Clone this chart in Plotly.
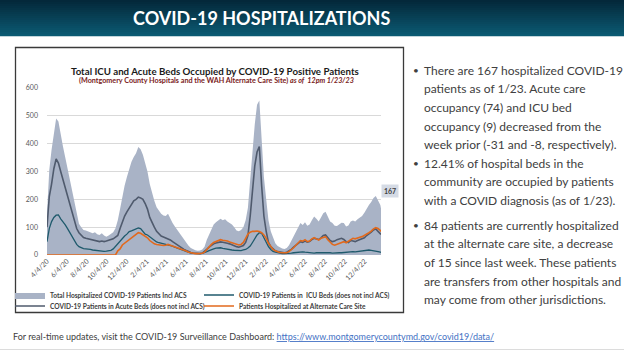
import plotly.graph_objects as go
import pandas as pd

# ---------------- data (weekly readings from the picture, last point = 1/23/23) -------------
first_week = "2020-04-04"
last_day = "2023-01-23"

total_hosp = [150, 305, 378, 445, 490, 480, 430, 390, 350, 310, 265, 222, 180, 140, 112, 100, 90, 88,
              85, 80, 78, 82, 75, 72, 78, 70, 66, 70, 75, 82, 96,
              125, 165, 216, 250, 280, 308, 335, 352, 366, 388, 380, 360, 328,
              300, 255, 220, 195, 172, 158, 148, 142, 140, 148, 128, 115, 102,
              90, 78, 66, 55, 43, 33, 25, 20, 17, 15, 16, 20, 30,
              55, 75, 95, 110, 118, 125, 130, 125, 128, 120, 115, 110, 100, 88, 85, 90, 100,
              125, 170, 260, 370, 470, 540, 555, 410, 280, 200, 125, 85, 60, 42, 32, 26, 23,
              22, 25, 35, 50, 65, 85, 100, 115, 108, 118, 105, 110, 125, 138, 130, 120, 135,
              150, 155, 135, 120, 115, 105, 104, 110, 116, 115, 102, 106, 120, 124, 120, 128, 134,
              140, 152, 168, 180, 190, 205, 212, 195, 180,
              167]
acute_beds = [100, 210, 255, 310, 345, 330, 300, 270, 240, 215, 185, 156, 125, 95, 80, 70, 63, 60,
              58, 55, 54, 52, 50, 48, 50, 48, 50, 52, 55, 58, 64,
              70, 95, 120, 140, 155, 168, 185, 195, 200, 208, 205, 200, 185,
              165, 135, 115, 100, 85, 75, 68, 65, 62, 58, 54, 48, 42,
              36, 30, 25, 20, 16, 12, 9, 7, 6, 5, 5, 7, 12,
              20, 28, 35, 40, 43, 45, 47, 46, 45, 42, 40, 36, 33, 30, 28, 30, 34,
              45, 70, 140, 240, 320, 370, 390, 250, 140, 85, 45, 30, 22, 15, 12, 10, 9,
              8, 10, 14, 20, 28, 35, 42, 48, 45, 50, 46, 48, 55, 60, 58, 55, 62,
              70, 72, 62, 52, 48, 50, 55, 58, 60, 56, 48, 45, 52, 50, 48, 52, 55,
              58, 62, 70, 75, 82, 90, 94, 85, 78,
              74]
icu_beds = [48, 95, 120, 135, 143, 144, 130, 120, 108, 95, 80, 66, 52, 38, 30, 26, 23, 22,
            22, 20, 18, 17, 15, 13, 14, 13, 14, 15, 17, 22, 32,
            40, 48, 60, 68, 75, 84, 87, 90, 92, 97, 95, 85, 75,
            72, 65, 58, 52, 47, 44, 42, 40, 38, 38, 36, 32, 28,
            25, 22, 18, 15, 12, 10, 7, 6, 5, 4, 5, 6, 8,
            12, 16, 20, 22, 25, 26, 26, 24, 22, 20, 19, 18, 17, 16, 15, 16, 18,
            20, 25, 32, 45, 60, 72, 80, 78, 62, 46, 30, 20, 13, 10, 8, 6, 5,
            5, 5, 6, 7, 8, 9, 10, 12, 11, 10, 9, 9, 8, 7, 8, 8, 9,
            10, 9, 8, 8, 7, 8, 9, 8, 8, 9, 8, 9, 10, 12, 11, 12, 13,
            14, 16, 18, 18, 17, 16, 14, 12, 10,
            9]
alt_care = [0, 0, 0, 0, 0, 0, 0, 0, 0, 0, 0, 0, 0, 0, 0, 0, 0, 0,
            0, 0, 0, 0, 0, 0, 0, 0, 0, 0, 0, 0, 0,
            15, 22, 36, 42, 48, 54, 60, 65, 72, 80, 78, 72, 65,
            62, 52, 45, 40, 38, 36, 35, 34, 35, 38, 35, 32, 30,
            28, 25, 22, 18, 14, 10, 8, 6, 5, 5, 5, 6, 10,
            20, 28, 38, 45, 48, 52, 55, 53, 52, 50, 47, 44, 40, 37, 36, 38, 45,
            60, 75, 82, 85, 85, 86, 84, 80, 72, 60, 42, 30, 20, 15, 11, 9, 8,
            7, 8, 12, 18, 26, 35, 45, 52, 50, 55, 48, 50, 58, 62, 58, 54, 60,
            64, 66, 55, 45, 38, 35, 38, 42, 46, 48, 44, 50, 56, 60, 58, 62, 64,
            66, 70, 74, 80, 86, 94, 98, 95, 88,
            84]

tick_labels = ["4/4/20", "6/4/20", "8/4/20", "10/4/20", "12/4/20", "2/4/21", "4/4/21", "6/4/21",
               "8/4/21", "10/4/21", "12/4/21", "2/4/22", "4/4/22", "6/4/22", "8/4/22", "10/4/22",
               "12/4/22"]
y_ticks = [0, 100, 200, 300, 400, 500, 600]

names = ["Total Hospitalized COVID-19 Patients Incl ACS",
         "COVID-19 Patients in  ICU Beds (does not incl ACS)",
         "COVID-19 Patients in Acute Beds (does not incl ACS)",
         "Patients Hospitalized at Alternate Care Site"]

bullets = [
    ["There are 167 hospitalized COVID-19", "patients as of 1/23. Acute care",
     "occupancy (74) and ICU bed", "occupancy (9) decreased from the",
     "week prior (-31 and -8, respectively)."],
    ["12.41% of hospital beds in the", "community are occupied by patients",
     "with a COVID diagnosis (as of 1/23)."],
    ["84 patients are currently hospitalized", "at the alternate care site, a decrease",
     "of 15 since last week. These patients", "are transfers from other hospitals and",
     "may come from other jurisdictions."],
]

# ---------------- layout helpers ----------------
W, H = 624, 351
ML, MR, MT, MB = 47, 243, 88, 96
PW, PH = W - ML - MR, H - MT - MB


def px(x):
    return (x - ML) / PW


def py(y):
    return (H - MB - y) / PH


dates = list(pd.date_range(first_week, periods=len(total_hosp) - 1, freq="7D")) + [pd.Timestamp(last_day)]
tick_vals = [pd.to_datetime(t, format="%m/%d/%y") for t in tick_labels]

FONT = "Lato"
TXT = "#404040"

fig = go.Figure()
fig.add_trace(go.Scatter(x=dates, y=total_hosp, name=names[0], mode="lines", fill="tozeroy",
                         line=dict(width=0, color="#a9b3c6"), fillcolor="#a9b3c6", legend="legend"))
fig.add_trace(go.Scatter(x=dates, y=icu_beds, name=names[1], mode="lines",
                         line=dict(width=1.3, color="#1f5a6c"), legend="legend2"))
fig.add_trace(go.Scatter(x=dates, y=acute_beds, name=names[2], mode="lines",
                         line=dict(width=1.6, color="#4f5a6d"), legend="legend3"))
fig.add_trace(go.Scatter(x=dates, y=alt_care, name=names[3], mode="lines",
                         line=dict(width=1.6, color="#e2691c"), legend="legend4"))

shapes = []
# header band (vertical gradient made of thin strips)
top_c, bot_c = (4, 40, 58), (11, 90, 114)
n = 18
for i in range(n):
    f = i / (n - 1)
    c = tuple(round(top_c[k] + (bot_c[k] - top_c[k]) * f) for k in range(3))
    shapes.append(dict(type="rect", xref="paper", yref="paper", x0=px(0), x1=px(W),
                       y0=py(i * 2), y1=py(i * 2 + 2.2), line=dict(width=0),
                       fillcolor="rgb(%d,%d,%d)" % c, layer="below"))
# chart box
shapes.append(dict(type="rect", xref="paper", yref="paper", x0=px(15.5), x1=px(403.5),
                   y0=py(47.5), y1=py(312.5), line=dict(color="#3a3a3a", width=1.3), layer="below"))
# faint slide bottom line
shapes.append(dict(type="line", xref="paper", yref="paper", x0=px(0), x1=px(W),
                   y0=py(349.5), y1=py(349.5), line=dict(color="#dcdcdc", width=1)))

ann = []
ann.append(dict(xref="paper", yref="paper", x=px(261), y=py(18), text="<b>COVID-19 HOSPITALIZATIONS</b>",
                showarrow=False, font=dict(family=FONT, size=18, color="white"),
                xanchor="center", yanchor="middle"))
ann.append(dict(xref="paper", yref="paper", x=px(215), y=py(70.5),
                text="<b>Total ICU and Acute Beds Occupied by COVID-19 Positive Patients</b>",
                showarrow=False, font=dict(family=FONT, size=9.7, color="#1a1a1a"),
                xanchor="center", yanchor="middle"))
ann.append(dict(xref="paper", yref="paper", x=px(216), y=py(80),
                text="<b>(Montgomery County Hospitals and the WAH Alternate Care Site) <i>as of  12pm 1/23/23</i></b>",
                showarrow=False, font=dict(family=FONT, size=7.2, color="#7a2222"),
                xanchor="center", yanchor="middle"))
# data label of the last total value
ann.append(dict(xref="x", yref="y", x=dates[-1], y=total_hosp[-1], text="<b>%d</b>" % total_hosp[-1],
                showarrow=False, font=dict(family=FONT, size=7, color="#404040"),
                bgcolor="#d5dbe5", borderpad=2, xanchor="center", yanchor="middle",
                xshift=9, yshift=18))
# right-hand bullets
starts = [70, 163, 225]
step = 18.7
for b, y0 in zip(bullets, starts):
    ann.append(dict(xref="paper", yref="paper", x=px(411), y=py(y0), text="•", showarrow=False,
                    font=dict(family=FONT, size=10, color=TXT), xanchor="left", yanchor="middle"))
    for j, line in enumerate(b):
        ann.append(dict(xref="paper", yref="paper", x=px(422), y=py(y0 + j * step), text=line,
                        showarrow=False, font=dict(family=FONT, size=12, color=TXT),
                        xanchor="left", yanchor="middle"))
# bottom note with link
url = "https://www.montgomerycountymd.gov/covid19/data/"
ann.append(dict(xref="paper", yref="paper", x=px(11), y=py(336),
                text="For real-time updates, visit the COVID-19 Surveillance Dashboard: "
                     "<a href='%s' style='color:#4472c4'><u>%s</u></a>" % (url, url),
                showarrow=False, font=dict(family=FONT, size=9, color=TXT),
                xanchor="left", yanchor="middle"))

leg_font = dict(family=FONT, size=6.6, color=TXT, weight="bold")


def leg(x_px, y_px):
    return dict(orientation="h", xref="paper", yref="paper", x=px(x_px), y=py(y_px),
                xanchor="left", yanchor="middle", font=leg_font, bgcolor="rgba(0,0,0,0)",
                borderwidth=0, itemwidth=30, tracegroupgap=0)


fig.update_layout(
    template="none",
    width=W, height=H,
    margin=dict(l=ML, r=MR, t=MT, b=MB, pad=0, autoexpand=False),
    paper_bgcolor="white", plot_bgcolor="rgba(0,0,0,0)",
    font=dict(family=FONT, color=TXT),
    showlegend=True,
    legend=leg(10, 295), legend2=leg(199, 295),
    legend3=leg(10, 306), legend4=leg(199, 306),
    xaxis=dict(type="date", range=[dates[0], dates[-1]], tickvals=tick_vals, ticktext=tick_labels,
               tickangle=-45, tickfont=dict(family=FONT, size=7, color="#595959"),
               showgrid=False, zeroline=False, showline=False, ticks="", automargin=False),
    yaxis=dict(range=[0, 600], tickvals=y_ticks, tickfont=dict(family=FONT, size=7, color="#595959"),
               showgrid=True, gridcolor="#d9d9d9", gridwidth=1, zeroline=False, showline=False,
               ticks="", ticklabelstandoff=8, automargin=False),
    shapes=shapes, annotations=ann,
)

fig.write_html("out.html")
